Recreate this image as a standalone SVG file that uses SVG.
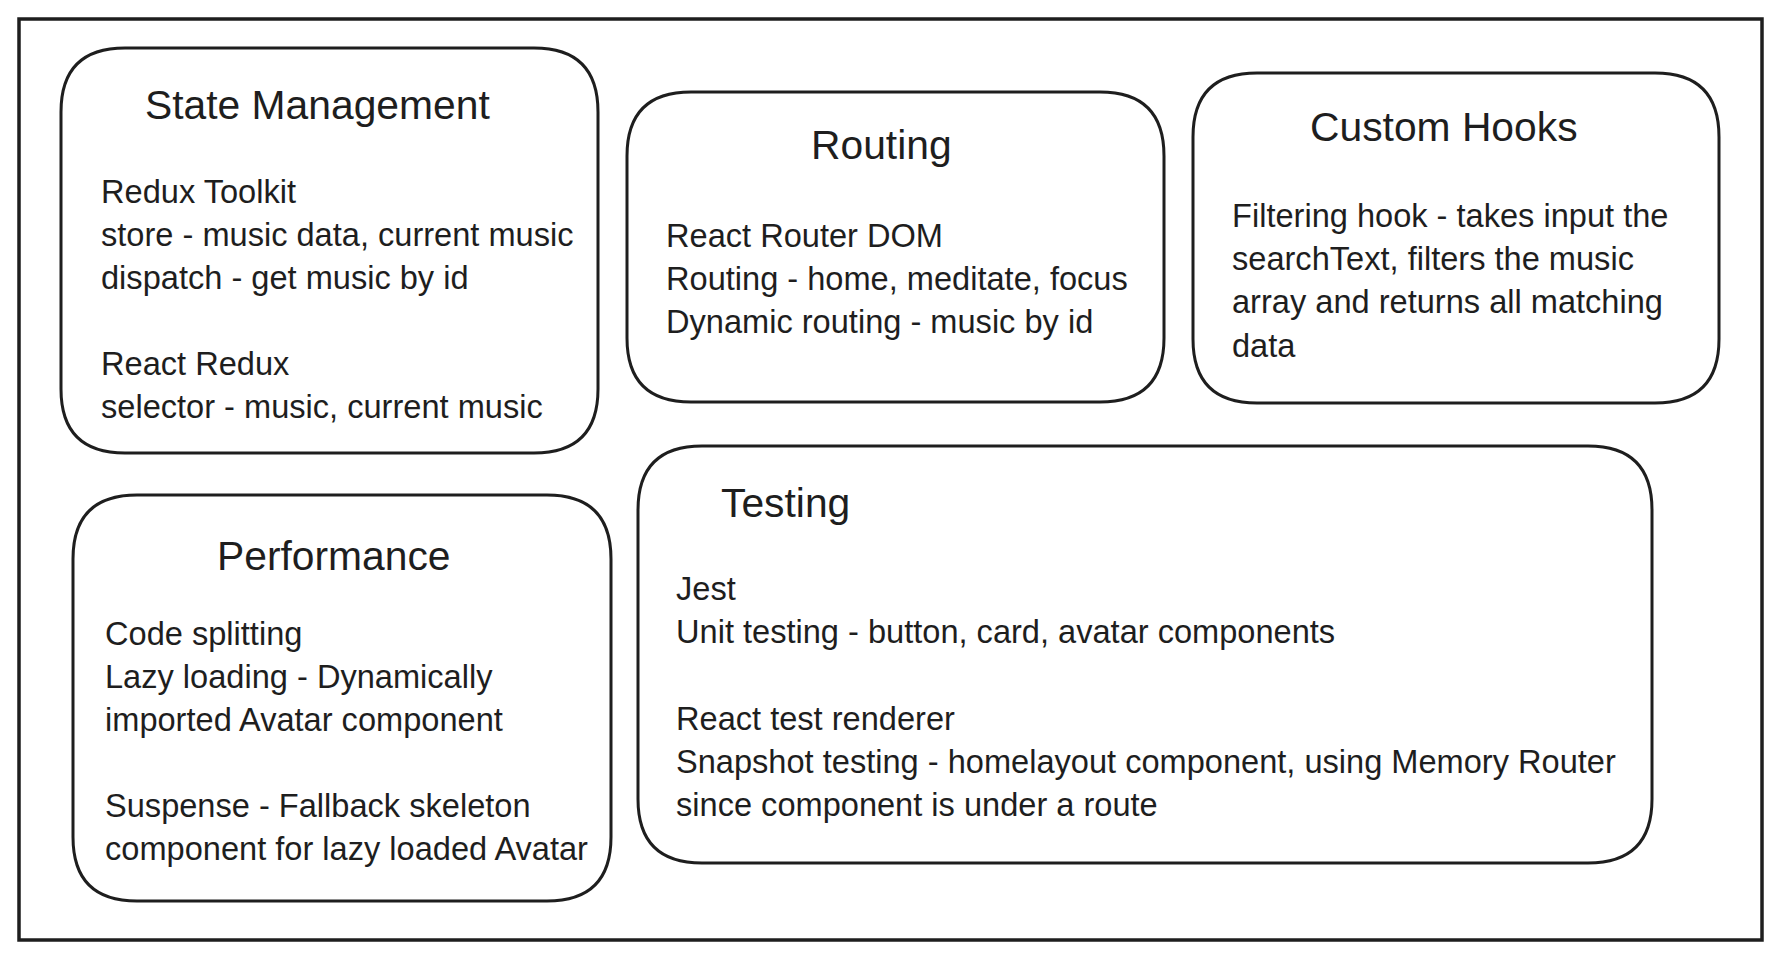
<svg xmlns="http://www.w3.org/2000/svg" width="1782" height="959" viewBox="0 0 1782 959">
<style>
.box{fill:#ffffff;stroke:#1e1e1e;stroke-width:3;stroke-linejoin:round}
.frame{fill:#ffffff;stroke:#1e1e1e;stroke-width:3.5}
.t{font-family:"Liberation Sans",Arial,sans-serif;font-size:40.8px;fill:#1e1e1e}
.b{font-family:"Liberation Sans",Arial,sans-serif;font-size:32.6px;fill:#1e1e1e}
</style>
<rect x="0" y="0" width="1782" height="959" fill="#ffffff"/>
<rect class="frame" x="19" y="19" width="1743" height="921"/>
<g id="connectors"/>
<g id="state-management">
<path class="box" d="M125 48 L534 48 Q598 48 598 112 L598 389 Q598 453 534 453 L125 453 Q61 453 61 389 L61 112 Q61 48 125 48 Z"/>
<text class="t" x="145" y="119">State Management</text>
<text class="b" x="101" y="203">Redux Toolkit</text>
<text class="b" x="101" y="246">store - music data, current music</text>
<text class="b" x="101" y="289">dispatch - get music by id</text>
<text class="b" x="101" y="375">React Redux</text>
<text class="b" x="101" y="418">selector - music, current music</text>
</g>
<g id="routing">
<path class="box" d="M691 92 L1100 92 Q1164 92 1164 156 L1164 338 Q1164 402 1100 402 L691 402 Q627 402 627 338 L627 156 Q627 92 691 92 Z"/>
<text class="t" x="811" y="159">Routing</text>
<text class="b" x="666" y="247">React Router DOM</text>
<text class="b" x="666" y="290">Routing - home, meditate, focus</text>
<text class="b" x="666" y="333">Dynamic routing - music by id</text>
</g>
<g id="custom-hooks">
<path class="box" d="M1257 73 L1655 73 Q1719 73 1719 137 L1719 339 Q1719 403 1655 403 L1257 403 Q1193 403 1193 339 L1193 137 Q1193 73 1257 73 Z"/>
<text class="t" x="1310" y="141">Custom Hooks</text>
<text class="b" x="1232" y="227">Filtering hook - takes input the</text>
<text class="b" x="1232" y="270">searchText, filters the music</text>
<text class="b" x="1232" y="313">array and returns all matching</text>
<text class="b" x="1232" y="357">data</text>
</g>
<g id="performance">
<path class="box" d="M137 495 L547 495 Q611 495 611 559 L611 837 Q611 901 547 901 L137 901 Q73 901 73 837 L73 559 Q73 495 137 495 Z"/>
<text class="t" x="217" y="570">Performance</text>
<text class="b" x="105" y="645">Code splitting</text>
<text class="b" x="105" y="688">Lazy loading - Dynamically</text>
<text class="b" x="105" y="731">imported Avatar component</text>
<text class="b" x="105" y="817">Suspense - Fallback skeleton</text>
<text class="b" x="105" y="860">component for lazy loaded Avatar</text>
</g>
<g id="testing">
<path class="box" d="M702 446 L1588 446 Q1652 446 1652 510 L1652 799 Q1652 863 1588 863 L702 863 Q638 863 638 799 L638 510 Q638 446 702 446 Z"/>
<text class="t" x="721" y="517">Testing</text>
<text class="b" x="676" y="600">Jest</text>
<text class="b" x="676" y="643">Unit testing - button, card, avatar components</text>
<text class="b" x="676" y="730">React test renderer</text>
<text class="b" x="676" y="773">Snapshot testing - homelayout component, using Memory Router</text>
<text class="b" x="676" y="816">since component is under a route</text>
</g>
</svg>
